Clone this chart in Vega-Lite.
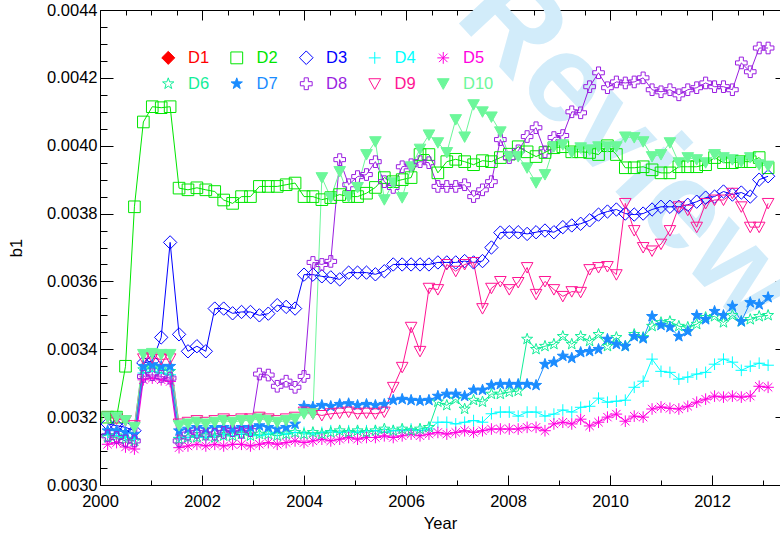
{
  "$schema": "https://vega.github.io/schema/vega-lite/v6.json",
  "width": 680,
  "height": 475,
  "autosize": {"type": "none"},
  "padding": {"left": 100, "top": 10, "right": 0, "bottom": 49},
  "background": "white",
  "config": {
    "view": {"stroke": null},
    "font": "Liberation Sans",
    "axis": {
      "domainColor": "black",
      "tickColor": "black",
      "labelColor": "black",
      "titleColor": "black",
      "labelFont": "Liberation Sans",
      "titleFont": "Liberation Sans",
      "labelFontSize": 16.5,
      "titleFontSize": 16.5,
      "titleFontWeight": "normal",
      "grid": false,
      "labelFlush": false,
      "labelOverlap": false
    },
    "legend": {
      "direction": "horizontal",
      "columns": 5,
      "columnPadding": 18.5,
      "rowPadding": 8.5,
      "gridAlign": "each",
      "symbolSize": 140,
      "symbolStrokeWidth": 1,
      "symbolOpacity": 1,
      "labelFont": "Liberation Sans",
      "labelFontSize": 16.5,
      "labelOffset": 11.5,
      "padding": 0
    }
  },
  "datasets": {
    "b1": [
      {"t": 2000.15, "D2": 0.0032, "D3": 0.00318, "D4": 0.00315, "D5": 0.00312, "D6": 0.00314, "D7": 0.00316, "D8": 0.003145, "D9": 0.0032, "D10": 0.0032},
      {"t": 2000.325, "D2": 0.0032, "D3": 0.003175, "D4": 0.003145, "D5": 0.003125, "D6": 0.003145, "D7": 0.00316, "D8": 0.00314, "D9": 0.003195, "D10": 0.0032},
      {"t": 2000.5, "D2": 0.00335, "D3": 0.00317, "D4": 0.00314, "D5": 0.003112, "D6": 0.003135, "D7": 0.003155, "D8": 0.00313, "D9": 0.00319, "D10": 0.00319},
      {"t": 2000.675, "D2": 0.00382, "D3": 0.00316, "D4": 0.003135, "D5": 0.003106, "D6": 0.00313, "D7": 0.00315, "D8": 0.00313, "D9": 0.003175, "D10": 0.00317},
      {"t": 2000.85, "D2": 0.00407, "D3": 0.00336, "D4": 0.00333, "D5": 0.00331, "D6": 0.00334, "D7": 0.00335, "D8": 0.00332, "D9": 0.003372, "D10": 0.003385},
      {"t": 2001.025, "D2": 0.004115, "D3": 0.003365, "D4": 0.003335, "D5": 0.003315, "D6": 0.003345, "D7": 0.003355, "D8": 0.003325, "D9": 0.003375, "D10": 0.003388},
      {"t": 2001.2, "D2": 0.004112, "D3": 0.003435, "D4": 0.00333, "D5": 0.00331, "D6": 0.00334, "D7": 0.00335, "D8": 0.00332, "D9": 0.00337, "D10": 0.003385},
      {"t": 2001.375, "D2": 0.004115, "D3": 0.003715, "D4": 0.003325, "D5": 0.003305, "D6": 0.003335, "D7": 0.00335, "D8": 0.003315, "D9": 0.003372, "D10": 0.003385},
      {"t": 2001.55, "D2": 0.003875, "D3": 0.003444, "D4": 0.00314, "D5": 0.00311, "D6": 0.003135, "D7": 0.00316, "D8": 0.00313, "D9": 0.00318, "D10": 0.003175},
      {"t": 2001.725, "D2": 0.00387, "D3": 0.003394, "D4": 0.00314, "D5": 0.003115, "D6": 0.00314, "D7": 0.003165, "D8": 0.00315, "D9": 0.003185, "D10": 0.00318},
      {"t": 2001.9, "D2": 0.003876, "D3": 0.003409, "D4": 0.003145, "D5": 0.00312, "D6": 0.00314, "D7": 0.00317, "D8": 0.003155, "D9": 0.00319, "D10": 0.003185},
      {"t": 2002.075, "D2": 0.00387, "D3": 0.003394, "D4": 0.00314, "D5": 0.003115, "D6": 0.003145, "D7": 0.003165, "D8": 0.00315, "D9": 0.003185, "D10": 0.00318},
      {"t": 2002.25, "D2": 0.003865, "D3": 0.00352, "D4": 0.003145, "D5": 0.00312, "D6": 0.00314, "D7": 0.00317, "D8": 0.00315, "D9": 0.00319, "D10": 0.003185},
      {"t": 2002.425, "D2": 0.00384, "D3": 0.00352, "D4": 0.00315, "D5": 0.003115, "D6": 0.003145, "D7": 0.00317, "D8": 0.003155, "D9": 0.003195, "D10": 0.00319},
      {"t": 2002.6, "D2": 0.00383, "D3": 0.003506, "D4": 0.003145, "D5": 0.00312, "D6": 0.003145, "D7": 0.003165, "D8": 0.00316, "D9": 0.00319, "D10": 0.003185},
      {"t": 2002.775, "D2": 0.00385, "D3": 0.00351, "D4": 0.00315, "D5": 0.00312, "D6": 0.00315, "D7": 0.00317, "D8": 0.003155, "D9": 0.003195, "D10": 0.00319},
      {"t": 2002.95, "D2": 0.00385, "D3": 0.00351, "D4": 0.00315, "D5": 0.003115, "D6": 0.003145, "D7": 0.00317, "D8": 0.00316, "D9": 0.003195, "D10": 0.00319},
      {"t": 2003.125, "D2": 0.00388, "D3": 0.0035, "D4": 0.003145, "D5": 0.00312, "D6": 0.00315, "D7": 0.003175, "D8": 0.003327, "D9": 0.0032, "D10": 0.003195},
      {"t": 2003.3, "D2": 0.00388, "D3": 0.003505, "D4": 0.00315, "D5": 0.003125, "D6": 0.00315, "D7": 0.00317, "D8": 0.003324, "D9": 0.003195, "D10": 0.00319},
      {"t": 2003.475, "D2": 0.00388, "D3": 0.00353, "D4": 0.003155, "D5": 0.00312, "D6": 0.003145, "D7": 0.003165, "D8": 0.003291, "D9": 0.00319, "D10": 0.003185},
      {"t": 2003.65, "D2": 0.003885, "D3": 0.003525, "D4": 0.00315, "D5": 0.003125, "D6": 0.00315, "D7": 0.00317, "D8": 0.003306, "D9": 0.003195, "D10": 0.00319},
      {"t": 2003.825, "D2": 0.00389, "D3": 0.00352, "D4": 0.003155, "D5": 0.00313, "D6": 0.003155, "D7": 0.00318, "D8": 0.003288, "D9": 0.0032, "D10": 0.003195},
      {"t": 2004.0, "D2": 0.00385, "D3": 0.00362, "D4": 0.003155, "D5": 0.003125, "D6": 0.00315, "D7": 0.003232, "D8": 0.00332, "D9": 0.003215, "D10": 0.00321},
      {"t": 2004.175, "D2": 0.00385, "D3": 0.00362, "D4": 0.00315, "D5": 0.00313, "D6": 0.003155, "D7": 0.00323, "D8": 0.003656, "D9": 0.00321, "D10": 0.00321},
      {"t": 2004.35, "D2": 0.003841, "D3": 0.003615, "D4": 0.003155, "D5": 0.003135, "D6": 0.00315, "D7": 0.003235, "D8": 0.00365, "D9": 0.003205, "D10": 0.003906},
      {"t": 2004.525, "D2": 0.003847, "D3": 0.003612, "D4": 0.00316, "D5": 0.00313, "D6": 0.003155, "D7": 0.003232, "D8": 0.003659, "D9": 0.00321, "D10": 0.003847},
      {"t": 2004.7, "D2": 0.003856, "D3": 0.003606, "D4": 0.003155, "D5": 0.003135, "D6": 0.00316, "D7": 0.003238, "D8": 0.003959, "D9": 0.003212, "D10": 0.003924},
      {"t": 2004.875, "D2": 0.00385, "D3": 0.003626, "D4": 0.00316, "D5": 0.00314, "D6": 0.003155, "D7": 0.00324, "D8": 0.003885, "D9": 0.003215, "D10": 0.00385},
      {"t": 2005.05, "D2": 0.00385, "D3": 0.003626, "D4": 0.003155, "D5": 0.003135, "D6": 0.00316, "D7": 0.003235, "D8": 0.003909, "D9": 0.00321, "D10": 0.003877},
      {"t": 2005.225, "D2": 0.00386, "D3": 0.003626, "D4": 0.00316, "D5": 0.00314, "D6": 0.003155, "D7": 0.003238, "D8": 0.003915, "D9": 0.003212, "D10": 0.003974},
      {"t": 2005.4, "D2": 0.003877, "D3": 0.003621, "D4": 0.00316, "D5": 0.00314, "D6": 0.00316, "D7": 0.003235, "D8": 0.003953, "D9": 0.00321, "D10": 0.004012},
      {"t": 2005.575, "D2": 0.003906, "D3": 0.00363, "D4": 0.003155, "D5": 0.003145, "D6": 0.003165, "D7": 0.003238, "D8": 0.003894, "D9": 0.003215, "D10": 0.003841},
      {"t": 2005.75, "D2": 0.003894, "D3": 0.00365, "D4": 0.00316, "D5": 0.00314, "D6": 0.00316, "D7": 0.00325, "D8": 0.003877, "D9": 0.003288, "D10": 0.003891},
      {"t": 2005.925, "D2": 0.0039, "D3": 0.00365, "D4": 0.00316, "D5": 0.003145, "D6": 0.003165, "D7": 0.003253, "D8": 0.003938, "D9": 0.003347, "D10": 0.003847},
      {"t": 2006.1, "D2": 0.003906, "D3": 0.00365, "D4": 0.003165, "D5": 0.00315, "D6": 0.00316, "D7": 0.00325, "D8": 0.003944, "D9": 0.003465, "D10": 0.003938},
      {"t": 2006.275, "D2": 0.003974, "D3": 0.00365, "D4": 0.00316, "D5": 0.003145, "D6": 0.003165, "D7": 0.003248, "D8": 0.003953, "D9": 0.003394, "D10": 0.00399},
      {"t": 2006.45, "D2": 0.003974, "D3": 0.00365, "D4": 0.003165, "D5": 0.00315, "D6": 0.00317, "D7": 0.00325, "D8": 0.00395, "D9": 0.00358, "D10": 0.004032},
      {"t": 2006.625, "D2": 0.00392, "D3": 0.003656, "D4": 0.003185, "D5": 0.003155, "D6": 0.003245, "D7": 0.003262, "D8": 0.00388, "D9": 0.003576, "D10": 0.004009},
      {"t": 2006.8, "D2": 0.003953, "D3": 0.003656, "D4": 0.003185, "D5": 0.00315, "D6": 0.003235, "D7": 0.003268, "D8": 0.00388, "D9": 0.00365, "D10": 0.00398},
      {"t": 2006.975, "D2": 0.00396, "D3": 0.003656, "D4": 0.00318, "D5": 0.003155, "D6": 0.003253, "D7": 0.003268, "D8": 0.00388, "D9": 0.00363, "D10": 0.004077},
      {"t": 2007.15, "D2": 0.003953, "D3": 0.00366, "D4": 0.003185, "D5": 0.00316, "D6": 0.003224, "D7": 0.003262, "D8": 0.003885, "D9": 0.00365, "D10": 0.004026},
      {"t": 2007.325, "D2": 0.003944, "D3": 0.003656, "D4": 0.00319, "D5": 0.003155, "D6": 0.00325, "D7": 0.00328, "D8": 0.00385, "D9": 0.003656, "D10": 0.004121},
      {"t": 2007.5, "D2": 0.003956, "D3": 0.00366, "D4": 0.003185, "D5": 0.00316, "D6": 0.003245, "D7": 0.00328, "D8": 0.00387, "D9": 0.00352, "D10": 0.0041},
      {"t": 2007.675, "D2": 0.003953, "D3": 0.0037, "D4": 0.00321, "D5": 0.003165, "D6": 0.003268, "D7": 0.003294, "D8": 0.003894, "D9": 0.00358, "D10": 0.004085},
      {"t": 2007.85, "D2": 0.003965, "D3": 0.003744, "D4": 0.003215, "D5": 0.003165, "D6": 0.003268, "D7": 0.003297, "D8": 0.004018, "D9": 0.0036, "D10": 0.004041},
      {"t": 2008.025, "D2": 0.003975, "D3": 0.003745, "D4": 0.003215, "D5": 0.003165, "D6": 0.003274, "D7": 0.003297, "D8": 0.003965, "D9": 0.003576, "D10": 0.003968},
      {"t": 2008.2, "D2": 0.003997, "D3": 0.003745, "D4": 0.003203, "D5": 0.003165, "D6": 0.003277, "D7": 0.003297, "D8": 0.003985, "D9": 0.003597, "D10": 0.003968},
      {"t": 2008.375, "D2": 0.003982, "D3": 0.00374, "D4": 0.003215, "D5": 0.00317, "D6": 0.00343, "D7": 0.003297, "D8": 0.004027, "D9": 0.003641, "D10": 0.003935},
      {"t": 2008.55, "D2": 0.003968, "D3": 0.003745, "D4": 0.003215, "D5": 0.00317, "D6": 0.0034, "D7": 0.003294, "D8": 0.004053, "D9": 0.003562, "D10": 0.003891},
      {"t": 2008.725, "D2": 0.00398, "D3": 0.00375, "D4": 0.003203, "D5": 0.00316, "D6": 0.003409, "D7": 0.003356, "D8": 0.003982, "D9": 0.0036, "D10": 0.003915},
      {"t": 2008.9, "D2": 0.003994, "D3": 0.003745, "D4": 0.003209, "D5": 0.00318, "D6": 0.003415, "D7": 0.003362, "D8": 0.004024, "D9": 0.003576, "D10": 0.003997},
      {"t": 2009.075, "D2": 0.003997, "D3": 0.00376, "D4": 0.003221, "D5": 0.003185, "D6": 0.003438, "D7": 0.00338, "D8": 0.00403, "D9": 0.003556, "D10": 0.004003},
      {"t": 2009.25, "D2": 0.003982, "D3": 0.003765, "D4": 0.003215, "D5": 0.00318, "D6": 0.003415, "D7": 0.003374, "D8": 0.0041, "D9": 0.00357, "D10": 0.00398},
      {"t": 2009.425, "D2": 0.003982, "D3": 0.00377, "D4": 0.003229, "D5": 0.003194, "D6": 0.003438, "D7": 0.003391, "D8": 0.004097, "D9": 0.003568, "D10": 0.003994},
      {"t": 2009.6, "D2": 0.00398, "D3": 0.00378, "D4": 0.003232, "D5": 0.003174, "D6": 0.003424, "D7": 0.003394, "D8": 0.004174, "D9": 0.003635, "D10": 0.003988},
      {"t": 2009.775, "D2": 0.003974, "D3": 0.003797, "D4": 0.003256, "D5": 0.003185, "D6": 0.003444, "D7": 0.0034, "D8": 0.004215, "D9": 0.003641, "D10": 0.003997},
      {"t": 2009.95, "D2": 0.004, "D3": 0.003806, "D4": 0.003244, "D5": 0.0032, "D6": 0.003409, "D7": 0.00343, "D8": 0.004171, "D9": 0.003644, "D10": 0.003997},
      {"t": 2010.125, "D2": 0.003974, "D3": 0.003812, "D4": 0.003247, "D5": 0.003209, "D6": 0.003435, "D7": 0.003415, "D8": 0.004188, "D9": 0.00362, "D10": 0.003997},
      {"t": 2010.3, "D2": 0.003935, "D3": 0.0038, "D4": 0.00325, "D5": 0.003188, "D6": 0.003409, "D7": 0.003409, "D8": 0.004185, "D9": 0.00383, "D10": 0.004026},
      {"t": 2010.475, "D2": 0.003935, "D3": 0.003797, "D4": 0.003288, "D5": 0.003203, "D6": 0.003444, "D7": 0.003438, "D8": 0.004188, "D9": 0.00375, "D10": 0.004024},
      {"t": 2010.65, "D2": 0.003938, "D3": 0.0038, "D4": 0.003306, "D5": 0.0032, "D6": 0.003435, "D7": 0.003432, "D8": 0.0042, "D9": 0.0037, "D10": 0.004012},
      {"t": 2010.825, "D2": 0.003929, "D3": 0.003812, "D4": 0.003371, "D5": 0.003224, "D6": 0.003468, "D7": 0.003497, "D8": 0.004165, "D9": 0.00369, "D10": 0.003968},
      {"t": 2011.0, "D2": 0.00392, "D3": 0.00382, "D4": 0.003335, "D5": 0.00323, "D6": 0.003479, "D7": 0.003471, "D8": 0.004159, "D9": 0.00371, "D10": 0.003974},
      {"t": 2011.175, "D2": 0.00392, "D3": 0.00382, "D4": 0.003332, "D5": 0.003226, "D6": 0.003482, "D7": 0.003465, "D8": 0.004165, "D9": 0.00375, "D10": 0.004009},
      {"t": 2011.35, "D2": 0.003938, "D3": 0.00382, "D4": 0.003312, "D5": 0.003224, "D6": 0.003468, "D7": 0.003438, "D8": 0.00415, "D9": 0.00382, "D10": 0.00395},
      {"t": 2011.525, "D2": 0.003938, "D3": 0.003826, "D4": 0.003318, "D5": 0.003232, "D6": 0.003465, "D7": 0.003453, "D8": 0.004165, "D9": 0.00381, "D10": 0.003965},
      {"t": 2011.7, "D2": 0.003938, "D3": 0.003835, "D4": 0.003327, "D5": 0.003244, "D6": 0.003474, "D7": 0.0035, "D8": 0.004171, "D9": 0.00376, "D10": 0.003959},
      {"t": 2011.875, "D2": 0.003944, "D3": 0.003847, "D4": 0.003332, "D5": 0.003253, "D6": 0.003494, "D7": 0.003488, "D8": 0.004185, "D9": 0.00383, "D10": 0.00395},
      {"t": 2012.05, "D2": 0.003965, "D3": 0.00385, "D4": 0.003356, "D5": 0.003262, "D6": 0.003497, "D7": 0.003512, "D8": 0.004174, "D9": 0.00384, "D10": 0.003974},
      {"t": 2012.225, "D2": 0.00395, "D3": 0.003865, "D4": 0.003371, "D5": 0.003259, "D6": 0.003479, "D7": 0.0035, "D8": 0.004174, "D9": 0.00384, "D10": 0.003965},
      {"t": 2012.4, "D2": 0.00395, "D3": 0.003856, "D4": 0.003362, "D5": 0.003262, "D6": 0.0035, "D7": 0.003527, "D8": 0.004165, "D9": 0.00386, "D10": 0.003959},
      {"t": 2012.575, "D2": 0.003953, "D3": 0.003862, "D4": 0.003338, "D5": 0.003259, "D6": 0.003482, "D7": 0.003482, "D8": 0.004244, "D9": 0.00382, "D10": 0.003953},
      {"t": 2012.75, "D2": 0.003953, "D3": 0.00385, "D4": 0.00335, "D5": 0.003262, "D6": 0.003488, "D7": 0.003538, "D8": 0.004218, "D9": 0.00376, "D10": 0.003965},
      {"t": 2012.925, "D2": 0.003965, "D3": 0.0039, "D4": 0.003359, "D5": 0.003291, "D6": 0.003497, "D7": 0.003532, "D8": 0.004288, "D9": 0.00376, "D10": 0.003944},
      {"t": 2013.1, "D2": 0.003935, "D3": 0.00391, "D4": 0.003353, "D5": 0.003288, "D6": 0.0035, "D7": 0.003553, "D8": 0.004288, "D9": 0.00383, "D10": 0.00394}
    ]
  },
  "layer": [
    {
      "data": {"values": [{"word": "Review"}]},
      "mark": {"type": "text", "fontSize": 125, "fontWeight": "bold", "font": "Liberation Sans", "angle": 47, "align": "center", "baseline": "middle", "color": "#d2ecfa"},
      "encoding": {
        "text": {"field": "word"},
        "x": {"datum": 2010.35, "type": "quantitative", "axis": null},
        "y": {"datum": 0.00399, "type": "quantitative", "axis": null}
      }
    },
    {
      "data": {"name": "b1"},
      "transform": [
        {"fold": ["D2", "D3", "D4", "D5", "D6", "D7", "D8", "D9", "D10"], "as": ["series", "b1"]},
        {"filter": "datum.b1 != null"}
      ],
      "mark": {"type": "line", "strokeWidth": 1, "clip": true},
      "encoding": {
        "x": {
          "field": "t", "type": "quantitative",
          "scale": {"domain": [2000, 2013.3333], "nice": false, "zero": false},
          "axis": {
            "orient": "bottom",
            "values": [2000, 2000.5, 2001, 2001.5, 2002, 2002.5, 2003, 2003.5, 2004, 2004.5, 2005, 2005.5, 2006, 2006.5, 2007, 2007.5, 2008, 2008.5, 2009, 2009.5, 2010, 2010.5, 2011, 2011.5, 2012, 2012.5, 2013],
            "format": "d",
            "labelExpr": "datum.value % 2 === 0 ? datum.label : ''",
            "tickSize": {"condition": {"test": "datum.value % 2 === 0", "value": -10}, "value": -5},
            "labelPadding": 18,
            "title": "Year",
            "titlePadding": 1
          }
        },
        "y": {
          "field": "b1", "type": "quantitative",
          "scale": {"domain": [0.003, 0.0044], "nice": false, "zero": false},
          "axis": {
            "orient": "left",
            "values": [0.003, 0.00305, 0.0031, 0.00315, 0.0032, 0.00325, 0.0033, 0.00335, 0.0034, 0.00345, 0.0035, 0.00355, 0.0036, 0.00365, 0.0037, 0.00375, 0.0038, 0.00385, 0.0039, 0.00395, 0.004, 0.00405, 0.0041, 0.00415, 0.0042, 0.00425, 0.0043, 0.00435, 0.0044],
            "labelExpr": "abs(datum.value * 5000 - round(datum.value * 5000)) < 0.001 ? format(datum.value, '.4f') : ''",
            "tickSize": {"condition": {"test": "abs(datum.value * 5000 - round(datum.value * 5000)) < 0.001", "value": -13}, "value": -7},
            "labelPadding": 16,
            "title": "b1",
            "titlePadding": 22
          }
        },
        "color": {
          "field": "series", "type": "nominal", "legend": null,
          "scale": {
            "domain": ["D2", "D3", "D4", "D5", "D6", "D7", "D8", "D9", "D10"],
            "range": ["#00e600", "#0000ff", "#00ffff", "#ff00e0", "#11ee99", "#1a8cff", "#9a1ee0", "#ff1493", "#6cf79a"]
          }
        }
      }
    },
    {
      "data": {"name": "b1"},
      "transform": [
        {"fold": ["D2", "D3", "D4", "D5", "D6", "D7", "D8", "D9", "D10"], "as": ["series", "b1"]},
        {"filter": "datum.b1 != null"}
      ],
      "mark": {"type": "point", "size": 135, "strokeWidth": 1, "opacity": 1, "clip": true},
      "encoding": {
        "x": {
          "field": "t", "type": "quantitative",
          "axis": {
            "orient": "top",
            "values": [2000, 2000.5, 2001, 2001.5, 2002, 2002.5, 2003, 2003.5, 2004, 2004.5, 2005, 2005.5, 2006, 2006.5, 2007, 2007.5, 2008, 2008.5, 2009, 2009.5, 2010, 2010.5, 2011, 2011.5, 2012, 2012.5, 2013],
            "labels": false,
            "tickSize": {"condition": {"test": "datum.value % 2 === 0", "value": -10}, "value": -5},
            "title": null
          }
        },
        "y": {
          "field": "b1", "type": "quantitative",
          "axis": {
            "orient": "right",
            "values": [0.003, 0.0032, 0.0034, 0.0036, 0.0038, 0.004, 0.0042, 0.0044],
            "labels": false,
            "domain": false,
            "tickSize": -5,
            "title": null
          }
        },
        "stroke": {
          "field": "series", "type": "nominal",
          "scale": {
            "domain": ["D1", "D2", "D3", "D4", "D5", "D6", "D7", "D8", "D9", "D10"],
            "range": ["#ff0000", "#00e600", "#0000ff", "#00ffff", "#ff00e0", "#11ee99", "#1a8cff", "#9a1ee0", "#ff1493", "#6cf79a"]
          },
          "legend": {
            "title": null, "orient": "none", "legendX": 60, "legendY": 39,
            "encode": {"labels": {"update": {"fill": {"scale": "stroke", "field": "value"}}}}
          }
        },
        "fill": {
          "field": "series", "type": "nominal",
          "scale": {
            "domain": ["D1", "D2", "D3", "D4", "D5", "D6", "D7", "D8", "D9", "D10"],
            "range": ["#ff0000", "transparent", "transparent", "transparent", "transparent", "transparent", "#1a8cff", "transparent", "transparent", "#6cf79a"]
          },
          "legend": {
            "title": null, "orient": "none", "legendX": 60, "legendY": 39,
            "encode": {"labels": {"update": {"fill": {"scale": "stroke", "field": "value"}}}}
          }
        },
        "shape": {
          "field": "series", "type": "nominal",
          "scale": {
            "domain": ["D1", "D2", "D3", "D4", "D5", "D6", "D7", "D8", "D9", "D10"],
            "range": [
              "M0,-1.1L1.1,0L0,1.1L-1.1,0Z",
              "square",
              "M0,-1.15L1.15,0L0,1.15L-1.15,0Z",
              "M-1,0H1M0,-1V1",
              "M-1,0H1M0,-1V1M-0.72,-0.72L0.72,0.72M-0.72,0.72L0.72,-0.72",
              "M0,-1L0.235,-0.324L0.951,-0.309L0.38,0.124L0.588,0.809L0,0.4L-0.588,0.809L-0.38,0.124L-0.951,-0.309L-0.235,-0.324Z",
              "M0,-1L0.235,-0.324L0.951,-0.309L0.38,0.124L0.588,0.809L0,0.4L-0.588,0.809L-0.38,0.124L-0.951,-0.309L-0.235,-0.324Z",
              "M-0.35,-1H0.35V-0.35H1V0.35H0.35V1H-0.35V0.35H-1V-0.35H-0.35Z",
              "M-1,-0.85H1L0,0.95Z",
              "M-1,-0.85H1L0,0.95Z"
            ]
          },
          "legend": {
            "title": null, "orient": "none", "legendX": 60, "legendY": 39,
            "encode": {"labels": {"update": {"fill": {"scale": "stroke", "field": "value"}}}}
          }
        }
      }
    }
  ],
  "resolve": {"axis": {"x": "independent", "y": "independent"}}
}
